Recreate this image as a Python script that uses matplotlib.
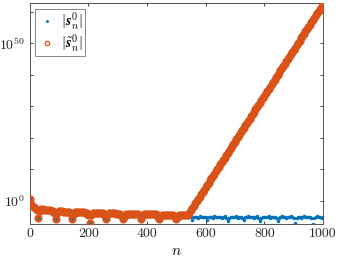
import numpy as np
import matplotlib
matplotlib.use("Agg")
import matplotlib.pyplot as plt

plt.rcParams['font.family'] = 'serif'
plt.rcParams['font.serif'] = ['cmr10', 'DejaVu Serif']
plt.rcParams['mathtext.fontset'] = 'cm'
plt.rcParams['axes.unicode_minus'] = False

# sample index n (every 5th index)
n = np.arange(0, 1001, 5)

# log10 |s_n^0| and log10 |s~_n^0|
common_low = [
    0.5, -1.0, -1.6, -2.0, -2.25, -2.9, -5.4, -3.1, -2.6, -2.7,
    -2.8, -2.85, -2.9, -2.95, -3.0, -3.05, -3.1, -3.7, -5.6, -3.8,
    -3.25, -3.28, -3.31, -3.34, -3.37, -3.4, -3.42, -3.44, -4.06, -5.7,
    -4.1, -3.52, -3.54, -3.56, -3.58, -3.6, -3.62, -3.64, -3.66, -3.68,
    -4.3, -7.0, -4.32, -3.74, -3.76, -3.77, -3.79, -3.8, -3.82, -3.83,
    -3.85, -4.46, -5.7, -4.49, -3.9, -3.92, -3.93, -3.95, -3.96, -3.98,
    -4.0, -4.01, -4.02, -4.63, -5.8, -4.65, -4.06, -4.07, -4.08, -4.09,
    -4.1, -4.11, -4.12, -4.13, -4.14, -4.75, -5.8, -4.77, -4.18, -4.19,
    -4.2, -4.21, -4.22, -4.23, -4.24, -4.25, -4.26, -4.87, -5.8, -4.89,
    -4.3, -4.3, -4.31, -4.31, -4.32, -4.32, -4.33, -4.33, -4.34, -4.94,
    -5.8, -4.95, -4.36, -4.37, -4.38, -4.38, -4.39, -4.4,
]

s_tail = [
    -4.9, -5.0, -5.1, -5.9, -5.1, -4.95, -5.0, -5.25, -4.9, -5.0,
    -5.1, -5.0, -5.2, -6.0, -5.2, -4.95, -5.0, -5.3, -4.9, -5.0,
    -5.05, -5.0, -4.95, -5.3, -5.0, -4.9, -5.3, -6.3, -5.3, -5.0,
    -4.95, -5.1, -5.0, -4.9, -5.25, -5.0, -5.1, -5.3, -6.1, -5.2,
    -5.0, -4.9, -5.05, -5.0, -4.95, -5.3, -5.0, -4.9, -5.3, -6.2,
    -5.3, -5.0, -4.95, -5.1, -5.0, -4.9, -5.25, -5.0, -5.1, -4.95,
    -5.3, -6.4, -5.3, -5.0, -4.9, -5.05, -5.0, -5.3, -4.95, -5.0,
    -4.9, -5.1, -5.4, -7.0, -5.4, -5.0, -4.95, -5.3, -5.0, -4.9,
    -5.05, -5.0, -5.1, -4.95, -5.4, -7.2, -5.4, -5.0, -4.9, -5.05,
    -5.0, -5.25, -4.95,
]

st_tail = [
    -4.4, -3.67, -2.95, -2.22, -1.49, -0.77, -0.04, 0.69, 1.42, 2.14,
    2.87, 3.60, 4.32, 5.05, 5.78, 6.50, 7.23, 7.96, 8.69, 9.41,
    10.14, 10.87, 11.59, 12.32, 13.05, 13.77, 14.50, 15.23, 15.96, 16.68,
    17.41, 18.14, 18.86, 19.59, 20.32, 21.04, 21.77, 22.50, 23.23, 23.95,
    24.68, 25.41, 26.13, 26.86, 27.59, 28.31, 29.04, 29.77, 30.50, 31.22,
    31.95, 32.68, 33.40, 34.13, 34.86, 35.58, 36.31, 37.04, 37.77, 38.49,
    39.22, 39.95, 40.67, 41.40, 42.13, 42.85, 43.58, 44.31, 45.04, 45.76,
    46.49, 47.22, 47.94, 48.67, 49.40, 50.12, 50.85, 51.58, 52.31, 53.03,
    53.76, 54.49, 55.21, 55.94, 56.67, 57.39, 58.12, 58.85, 59.58, 60.30,
    61.03, 61.76, 62.48,
]

s_vals = 10.0 ** np.array(common_low + s_tail)
st_vals = 10.0 ** np.array(common_low + st_tail)

xticks = [0, 200, 400, 600, 800, 1000]
ytick_exps = [0, 10, 20, 30, 40, 50, 60]
ytick_labels = ['$10^{0}$', '', '', '', '', '$10^{50}$', '']

blue = '#0072BD'
orange = '#D95319'

fig = plt.figure(figsize=(3.38, 2.62), dpi=100)
ax = fig.add_axes([29.5 / 338, (262 - 224) / 262, (323 - 29.5) / 338, (224 - 3) / 262])

lbl1 = r'$|\mathbfit{s}_n^0|$'
lbl2 = r'$|\tilde{\mathbfit{s}}_n^0|$'

ax.semilogy(n, s_vals, '.', color=blue, ms=3.0, label=lbl1, zorder=2)
ax.semilogy(n, st_vals, 'o', color=orange, mfc='none', ms=3.8, mew=2.0, label=lbl2, zorder=3)

ax.set_xlim(0, 1000)
ax.set_ylim(10 ** -7.3, 10 ** 62.8)
ax.set_xticks(xticks)
ax.set_xticklabels([str(v) for v in xticks])
ax.set_yticks([10.0 ** e for e in ytick_exps])
ax.set_yticklabels(ytick_labels)
ax.minorticks_off()
ax.tick_params(which='both', direction='in', length=2.5, width=0.6, colors='#262626',
               labelsize=10, top=True, right=True, pad=3)
for sp in ax.spines.values():
    sp.set_color('#555555')
    sp.set_linewidth(0.7)

ax.set_xlabel(r'$n$', fontsize=11, labelpad=3)

leg = ax.legend(loc='upper left', fontsize=10.5, frameon=True, fancybox=False,
                edgecolor='#888888', framealpha=1, borderpad=0.12, handlelength=1.4,
                handletextpad=0.25, labelspacing=0.02, borderaxespad=0.4)
leg.get_frame().set_linewidth(0.7)
hs = leg.legend_handles
hs[0].set_markersize(2.2)
hs[1].set_markersize(3.2)
hs[1].set_markeredgewidth(0.9)

try:
    fig.canvas.draw()
except Exception:
    leg.get_texts()[0].set_text(r'$|\mathbf{s}_n^0|$')
    leg.get_texts()[1].set_text(r'$|\tilde{\mathbf{s}}_n^0|$')

fig.savefig('out.png', dpi=100)
